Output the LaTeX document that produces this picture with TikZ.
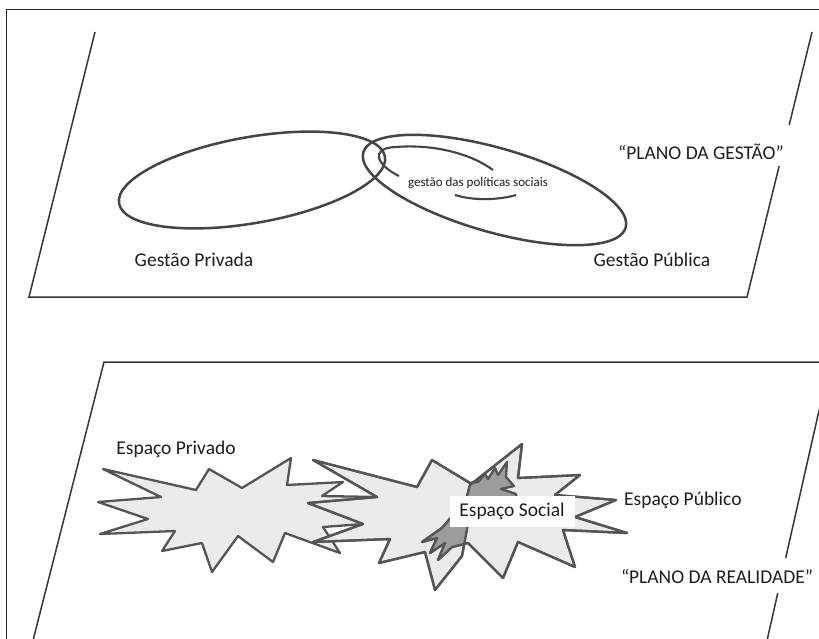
\documentclass[tikz,border=0pt]{standalone}
\usepackage{fontspec}
\setmainfont{Carlito}
\usetikzlibrary{calc}
\definecolor{linec}{HTML}{363636}
\definecolor{ellc}{HTML}{454545}
\definecolor{starc}{HTML}{555555}
\definecolor{starfill}{HTML}{EBEBEB}
\definecolor{darkfill}{HTML}{9C9C9C}
\definecolor{txt}{HTML}{1E1E1E}
\begin{document}
\begin{tikzpicture}[x=1pt,y=-1pt,
  frameline/.style={draw=black!85, line width=0.9pt},
  planeline/.style={draw=linec, line width=1.5pt},
  ell/.style={draw=ellc, line width=2.5pt},
  starshape/.style={draw=starc, fill=starfill, line width=2.3pt, line join=round},
  starout/.style={draw=starc, line width=2.3pt, line join=round},
  lab/.style={text=txt, inner sep=0pt, font=\fontsize{19.5}{23}\selectfont},
  smalllab/.style={text=txt, inner sep=0pt, font=\fontsize{13}{15}\selectfont},
]
\useasboundingbox (0,0) rectangle (819,638);
\clip (0,0) rectangle (819,638);
\fill[white] (0,0) rectangle (819,638);
\draw[frameline] (6,9) rectangle (840,700);

% ---------- upper plane ----------
\coordinate (ul) at (95,32);
\coordinate (bl) at (29,297);
\coordinate (br) at (747,297);
\coordinate (ur) at (812,32);
\draw[planeline] (ul) -- (bl) -- (br) -- ($(ur)!0.506!(br)$);
\draw[planeline] (ur) -- ($(ur)!0.351!(br)$);
\node[lab] (plg) at (701,152) {“PLANO DA GESTÃO”};

% ellipses
\draw[ell, rotate around={10:(252,180)}] (252,180) ellipse [x radius=135, y radius=43];
\draw[ell, rotate around={-16:(494.5,190)}] (494.5,190) ellipse [x radius=136.5, y radius=42];
\draw[ell, line width=2.1pt] (399,176) .. controls (378,166) and (368,148) .. (396,147)
   .. controls (432,144) and (470,153) .. (493,170);
\draw[ell, line width=2.1pt] (455,195) .. controls (474,201) and (499,200) .. (516,195);
\node[smalllab] (gps) at (478,183) {gestão das políticas sociais};

\node[lab] (gpr) at (194,260) {Gestão Privada};
\node[lab] (gpu) at (652,260) {Gestão Pública};

% ---------- lower plane ----------
\coordinate (lul) at (104,362);
\coordinate (lbl) at (28,660);
\coordinate (lur) at (830,362);
\coordinate (lbr) at (766,645);
\draw[planeline] (lbl) -- (lul) -- (lur) -- ($(lur)!0.693!(lbr)$);
\draw[planeline] ($(lur)!0.816!(lbr)$) -- (lbr);
\node[lab] (plr) at (717,577) {“PLANO DA REALIDADE”};

% stars
\def\starA{(103,469) -- (196,490) -- (209,469) -- (242,488) -- (291,458) -- (287,485)
 -- (343,482) -- (322,496) -- (377,497) -- (335,510) -- (363,524) -- (323,527)
 -- (340,553) -- (285,533) -- (273,562) -- (238,536) -- (212,572) -- (202,543)
 -- (162,551) -- (175,531) -- (100,534) -- (148,519) -- (98,502) -- (161,497) -- cycle}
\def\starB{(313,460) -- (417,487) -- (432,460) -- (470,483) -- (478,482) -- (485,474)
 -- (488,479) -- (495,468) -- (498,475) -- (507,462) -- (506,477) -- (514,486)
 -- (501,489) -- (516,494) -- (520,512) -- (468,524) -- (462,556) -- (435,590)
 -- (425,552) -- (379,563) -- (390,539) -- (313,542) -- (363,524) -- (308,503)
 -- (377,497) -- cycle}
\def\starC{(522,444) -- (518,478) -- (580,475) -- (555,495) -- (616,500) -- (575,517)
 -- (627,533) -- (563,530) -- (575,567) -- (518,542) -- (503,578) -- (468,543)
 -- (452,547) -- (438,560) -- (445,543) -- (430,553) -- (437,538) -- (422,542)
 -- (442,528) -- (466,500) -- (470,485) -- cycle}
\path[starshape] \starA;
\path[starshape] \starB;
\path[starshape] \starC;
\begin{scope}
  \clip \starB;
  \fill[darkfill] \starC;
\end{scope}
\path[starout] \starB;
\path[starout] \starC;

\node[lab, fill=white, minimum width=125pt, minimum height=31pt] (es) at (512,511.5) {Espaço Social};
\node[lab] (epr) at (176,449) {Espaço Privado};
\node[lab, anchor=west] (epu) at (624,500) {Espaço Público};
\end{tikzpicture}
\end{document}
